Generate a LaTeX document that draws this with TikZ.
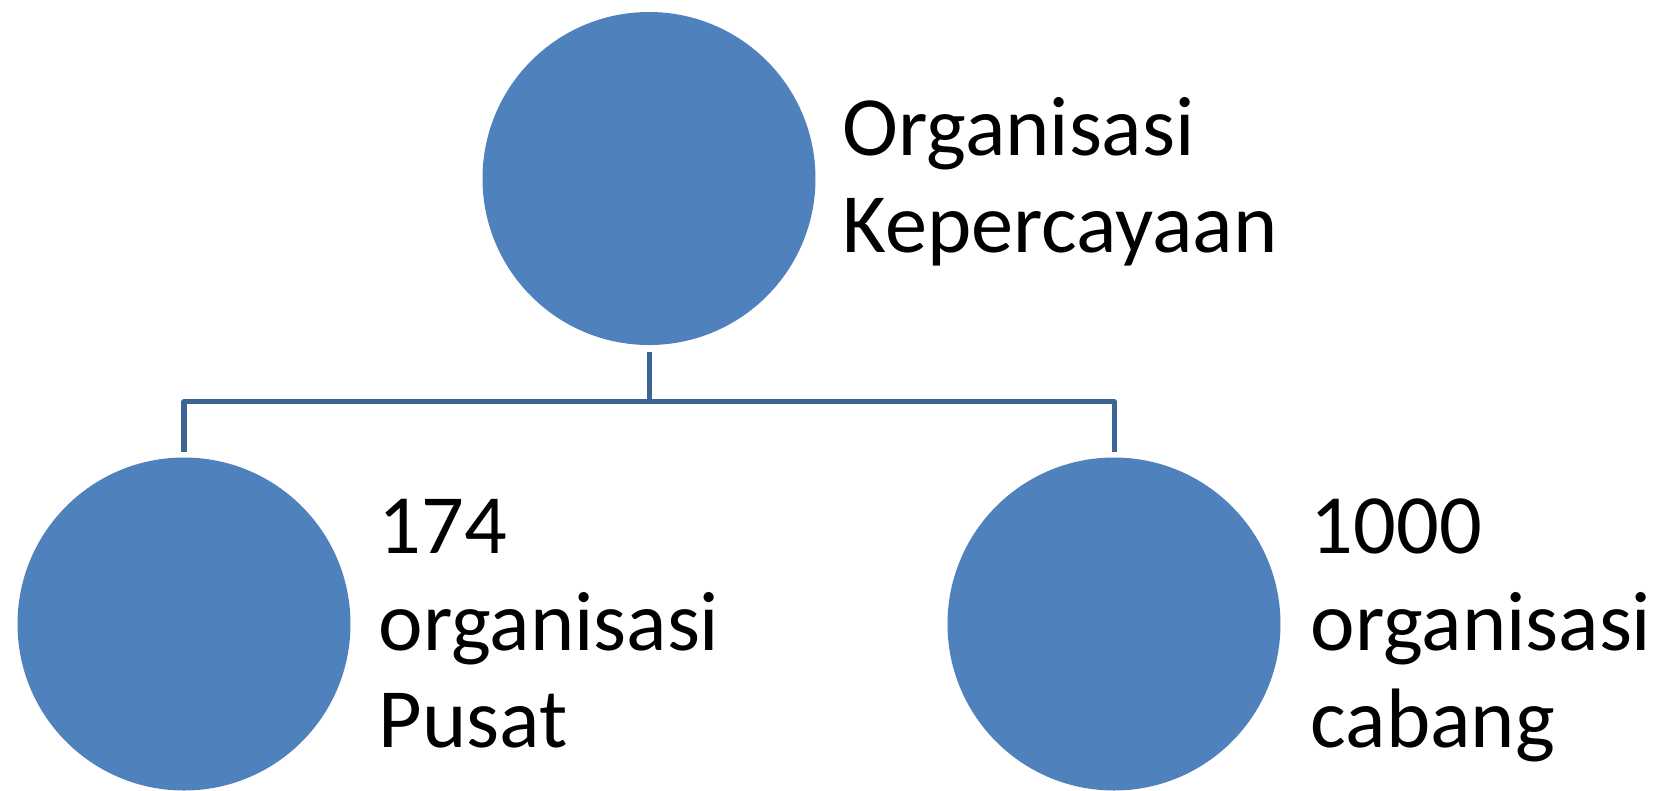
\documentclass[tikz,border=0pt]{standalone}
\usepackage{fontspec}
\setmainfont{Carlito}
\definecolor{circfill}{HTML}{4F81BD}
\definecolor{connline}{HTML}{3C6595}
\begin{document}
\begin{tikzpicture}[
  orgcircle/.style={circle, fill=circfill, minimum size=3.33cm, inner sep=0pt, draw=none},
  orglabel/.style={anchor=base west, inner sep=0pt, align=left, font=\fontsize{24pt}{27.5pt}\selectfont},
  conn/.style={draw=connline, line width=0.05cm, line join=round}
]
\useasboundingbox[fill=white] (0,0) rectangle (16.67,-7.90);
\node[orgcircle] (top) at (6.49,-1.785) {};
\node[orgcircle] (left) at (1.84,-6.24) {};
\node[orgcircle] (right) at (11.14,-6.24) {};
\node[orglabel] (toplabel) at (8.42,-2.52) {Organisasi\\Kepercayaan};
\node[orglabel] (leftlabel) at (3.78,-7.47) {174\\organisasi\\Pusat};
\node[orglabel] (rightlabel) at (13.10,-7.47) {1000\\organisasi\\cabang};
\coordinate (bus) at ([yshift=-0.56cm]top.south);
\draw[conn] ([yshift=-0.06cm]top.south) -- (bus);
\draw[conn] ([yshift=0.05cm]left.north) -- (left.north |- bus) -| ([yshift=0.05cm]right.north);
\end{tikzpicture}
\end{document}
